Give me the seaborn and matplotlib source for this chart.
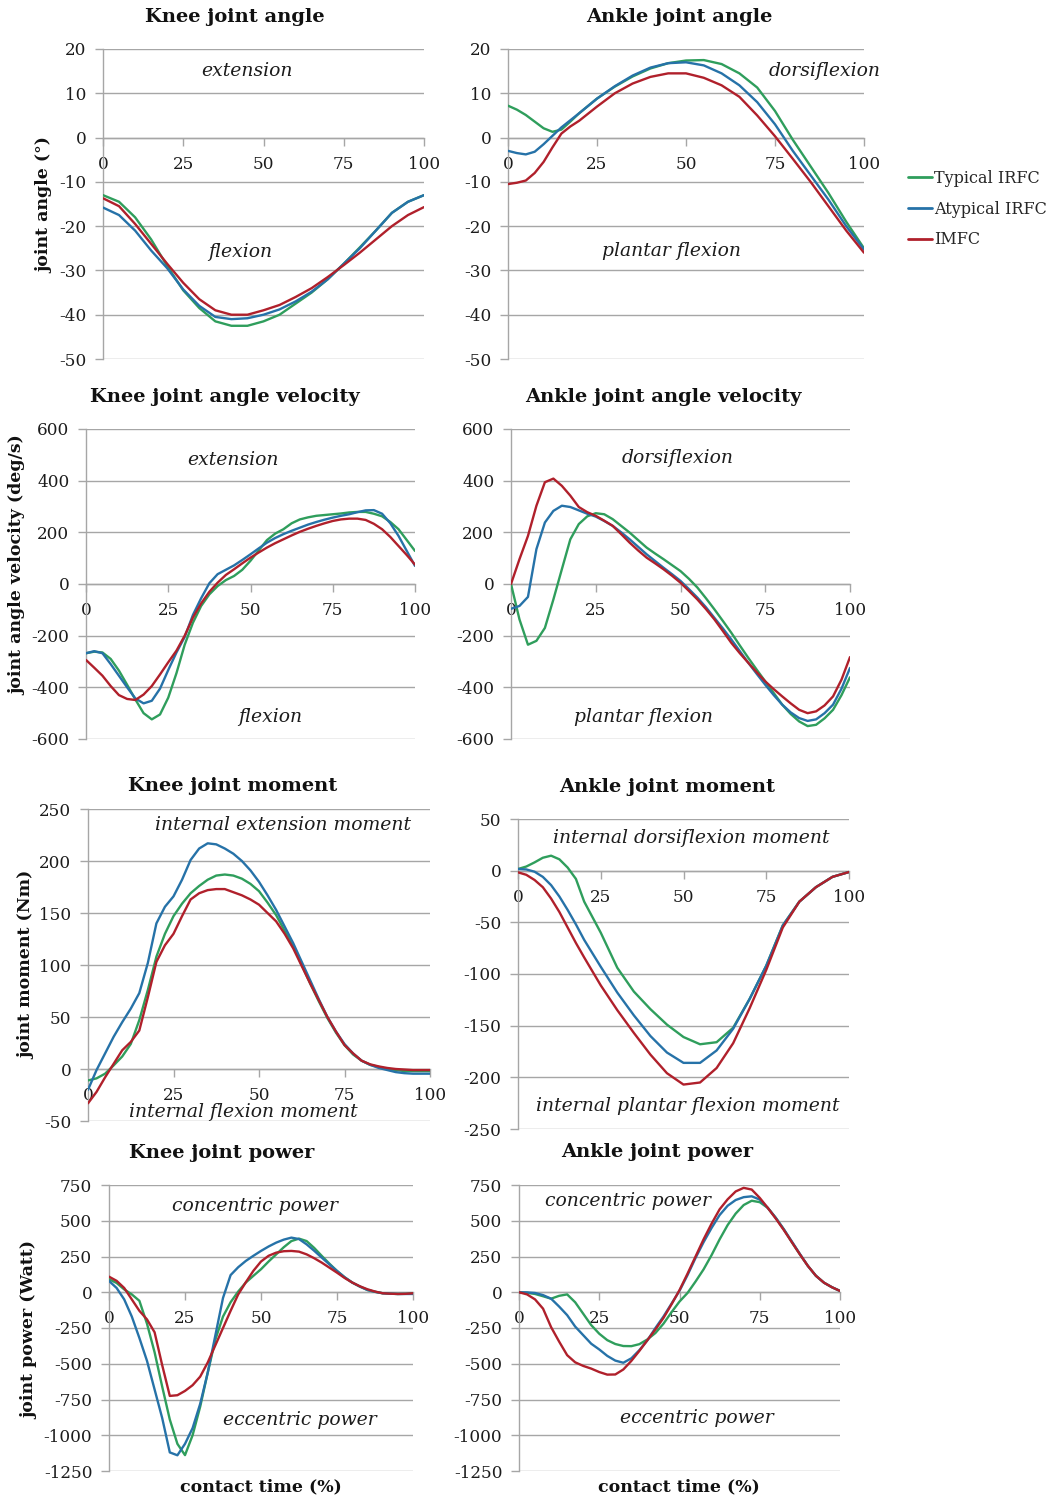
import numpy as np
import pandas as pd
import matplotlib
matplotlib.use("Agg")
import matplotlib.pyplot as plt
from matplotlib.lines import Line2D
import seaborn as sns

# ---------------------------------------------------------------- data
groups = ["Typical IRFC", "Atypical IRFC", "IMFC"]
colors = {"Typical IRFC": "#2f9e5c", "Atypical IRFC": "#2672a8", "IMFC": "#b0202b"}

x_step5 = [0, 5, 10, 15, 20, 25, 30, 35, 40, 45, 50, 55, 60, 65, 70, 75, 80, 85, 90, 95, 100]
x_step25 = [i * 2.5 for i in range(41)]
x_early_fine = [0, 2.5, 5, 7.5, 10, 12.5, 15, 17.5, 20, 25, 30, 35, 40, 45, 50, 55,
                60, 65, 70, 75, 80, 85, 90, 95, 100]

# Knee joint angle (deg)
knee_angle_typ = [-13, -14.5, -18, -23, -29, -34.5, -38.5, -41.5, -42.5, -42.5, -41.5,
                  -40, -37.5, -35, -32, -28.5, -24.8, -21, -17, -14.5, -13]
knee_angle_atyp = [-15.8, -17.5, -21, -25.5, -29.5, -34.3, -38, -40.5, -41, -40.8, -40,
                   -38.8, -37, -34.8, -32, -28.5, -25, -21, -17, -14.5, -13]
knee_angle_imfc = [-13.7, -15.5, -19.5, -24, -28.5, -32.8, -36.5, -39, -40, -40, -39,
                   -37.8, -36, -34, -31.5, -28.8, -26, -23, -20, -17.5, -15.7]

# Ankle joint angle (deg)
ankle_angle_typ = [7.2, 6.3, 5.1, 3.6, 2.1, 1.3, 1.8, 3.6, 5.5, 8.8, 11.5, 13.8, 15.6, 16.8,
                   17.4, 17.5, 16.6, 14.5, 11.3, 6.0, -0.5, -6.5, -12.5, -19, -25]
ankle_angle_atyp = [-3.0, -3.5, -3.8, -3.2, -1.5, 0.4, 2.3, 3.9, 5.5, 8.8, 11.6, 14.0, 15.8,
                    16.8, 17.0, 16.3, 14.5, 11.8, 8.0, 3.0, -3.0, -8.5, -14.0, -20.0, -25.3]
ankle_angle_imfc = [-10.5, -10.2, -9.7, -8.0, -5.5, -2.2, 0.9, 2.5, 3.8, 7.0, 10.0, 12.2, 13.7,
                    14.5, 14.5, 13.5, 11.8, 9.2, 5.0, 0.3, -4.8, -10.0, -15.5, -21.0, -26.0]

# Knee joint angle velocity (deg/s)
knee_vel_typ = [-268, -262, -265, -290, -335, -390, -447, -500, -524, -505, -440, -345, -235,
                -150, -85, -40, -8, 15, 31, 55, 90, 130, 170, 195, 212, 235, 250, 258, 264,
                267, 270, 273, 277, 279, 279, 272, 262, 240, 212, 170, 128]
knee_vel_atyp = [-268, -260, -268, -310, -355, -400, -443, -462, -452, -405, -333, -265, -205,
                 -120, -55, 3, 38, 55, 72, 93, 115, 138, 160, 178, 193, 206, 218, 230, 240,
                 249, 257, 264, 270, 278, 285, 286, 272, 235, 186, 128, 70]
knee_vel_imfc = [-294, -324, -355, -395, -430, -445, -449, -428, -395, -350, -303, -258, -200,
                 -130, -75, -30, 5, 35, 57, 80, 102, 122, 141, 158, 173, 188, 202, 214, 225,
                 235, 244, 250, 253, 253, 248, 233, 212, 182, 147, 112, 75]

# Ankle joint angle velocity (deg/s)
ankle_vel_typ = [0, -137, -235, -220, -170, -60, 57, 173, 232, 262, 274, 270, 251, 225, 199,
                 170, 141, 118, 96, 73, 50, 20, -14, -55, -98, -143, -189, -238, -286, -332,
                 -377, -422, -467, -503, -532, -550, -545, -520, -487, -430, -361]
ankle_vel_atyp = [-96, -85, -50, 135, 238, 283, 303, 298, 285, 272, 261, 244, 225, 200, 173,
                  144, 115, 89, 63, 38, 12, -20, -53, -90, -131, -172, -215, -260, -305, -348,
                  -390, -430, -467, -497, -519, -530, -524, -500, -467, -405, -325]
ankle_vel_imfc = [0, 96, 186, 303, 394, 408, 380, 342, 298, 278, 264, 245, 225, 193, 160, 130,
                  102, 80, 57, 32, 5, -27, -60, -97, -137, -182, -228, -268, -305, -342, -377,
                  -407, -435, -462, -487, -500, -493, -470, -435, -370, -283]

# Knee joint moment (Nm)
knee_mom_typ = [-11, -9, -4.5, 3.5, 12, 24, 47, 76, 108, 130, 147, 159, 169, 176, 182, 186, 187,
                186, 183, 178, 171, 160, 148, 133, 118, 100, 82, 65, 49, 35, 23, 14, 8, 4, 2,
                0, -1, -2, -2, -2, -2]
knee_mom_atyp = [-20, -1, 15, 31, 45, 58, 73, 102, 140, 156, 166, 182, 201, 212, 217, 216, 212,
                 207, 200, 191, 180, 167, 153, 137, 121, 103, 85, 67, 50, 36, 24, 15, 8, 4, 1,
                 -1, -3, -4, -4.5, -4.5, -4.5]
knee_mom_imfc = [-33, -22, -8, 5, 18, 26, 37, 69, 103, 119, 130, 147, 163, 169, 172, 173, 173,
                 170, 167, 163, 158, 150, 142, 130, 116, 99, 82, 66, 50, 36, 23, 15, 8, 4.5,
                 2.5, 1, 0, -0.5, -1, -1, -1]

# Ankle joint moment (Nm)
ankle_mom_typ = [1.6, 4, 8, 12.5, 14.5, 11, 3, -8, -30, -60, -94, -117, -134, -149, -161,
                 -168, -166, -152, -124, -92, -53, -30, -16, -6, -1.3]
ankle_mom_atyp = [1.6, 1.2, -1, -6, -14, -25, -38, -52, -67, -93, -118, -140, -160, -176, -186,
                  -186, -174, -153, -124, -92, -53, -30, -16, -6, -1.3]
ankle_mom_imfc = [-1.6, -4, -9, -16, -27, -40, -55, -70, -84, -111, -135, -157, -178, -196,
                  -207, -205, -191, -167, -133, -96, -55, -30, -16, -6, -1.3]

# Knee joint power (W)
knee_pow_typ = [91, 65, 20, -15, -60, -220, -420, -660, -890, -1060, -1139, -1000, -800, -560,
                -330, -170, -70, 5, 68, 115, 161, 215, 265, 315, 358, 375, 358, 310, 254, 200,
                149, 105, 68, 40, 16, 3, -7, -10, -12, -11, -7]
knee_pow_atyp = [79, 30, -50, -170, -320, -480, -680, -880, -1120, -1140, -1060, -950, -780,
                 -560, -300, -40, 120, 175, 219, 255, 289, 320, 347, 368, 382, 372, 335, 290,
                 242, 195, 149, 105, 68, 40, 16, 3, -7, -10, -12, -12, -12]
knee_pow_imfc = [109, 80, 30, -50, -130, -190, -280, -510, -725, -720, -690, -650, -590, -490,
                 -370, -250, -130, -15, 70, 150, 215, 255, 277, 287, 289, 284, 265, 238, 207,
                 172, 137, 100, 68, 42, 21, 5, -7, -10, -12, -11, -7]

# Ankle joint power (W)
ankle_pow_typ = [0, -4, -12, -28, -45, -25, -15, -70, -150, -230, -290, -335, -362, -376, -377,
                 -363, -330, -285, -220, -140, -65, -5, 75, 160, 260, 370, 470, 550, 610, 640,
                 630, 590, 520, 440, 350, 265, 184, 115, 67, 35, 9]
ankle_pow_atyp = [0, -1, -5, -20, -45, -100, -160, -240, -300, -360, -400, -445, -478, -493,
                  -462, -405, -336, -250, -170, -80, 10, 120, 240, 350, 450, 540, 605, 645,
                  665, 671, 648, 590, 520, 440, 355, 268, 184, 115, 67, 35, 9]
ankle_pow_imfc = [0, -15, -50, -115, -244, -345, -440, -490, -515, -534, -558, -576, -575,
                  -540, -480, -410, -335, -260, -180, -85, 15, 130, 250, 370, 480, 580, 650,
                  705, 730, 718, 660, 590, 515, 435, 350, 265, 184, 115, 67, 35, 9]

xticks = [0, 25, 50, 75, 100]

# ---------------------------------------------------------------- style
sns.set_theme(style="white")
plt.rcParams["font.family"] = ["DejaVu Serif"]
plt.rcParams["axes.unicode_minus"] = False

W, H = 1057, 1500
fig = plt.figure(figsize=(W / 100, H / 100), dpi=100)
GRID = "#a6a6a6"
TXT = "#1c1c1c"


def rect(l, r, t, b):
    return [l / W, 1 - b / H, (r - l) / W, (b - t) / H]


def fx(x):
    return x / W


def fy(y):
    return 1 - y / H


def panel(box, x, series, ylim, ystep, title, title_xy):
    ax = fig.add_axes(rect(*box))
    frames = []
    for name, vals in zip(groups, series):
        frames.append(pd.DataFrame({"t": x, "v": vals, "group": name}))
    df = pd.concat(frames, ignore_index=True)
    sns.lineplot(data=df, x="t", y="v", hue="group", palette=colors,
                 hue_order=groups, estimator=None, sort=False, legend=False,
                 linewidth=1.7, ax=ax, zorder=3)
    for ln in ax.get_lines():
        ln.set_solid_joinstyle("round")
        ln.set_solid_capstyle("round")
    ax.set_xlim(0, 100)
    ax.set_ylim(*ylim)
    ax.set_xticks(xticks)
    ax.set_xticklabels([str(v) for v in xticks])
    ax.set_yticks(np.arange(ylim[0], ylim[1] + ystep / 2, ystep))
    ax.yaxis.grid(True, color=GRID, lw=1.0, zorder=0)
    ax.xaxis.grid(False)
    ax.set_xlabel("")
    ax.set_ylabel("")
    for s in ("top", "right"):
        ax.spines[s].set_visible(False)
    ax.spines["left"].set_color(GRID)
    ax.spines["bottom"].set_color(GRID)
    ax.spines["bottom"].set_position(("data", 0))
    ax.spines["left"].set_linewidth(1.0)
    ax.spines["bottom"].set_linewidth(1.0)
    ax.tick_params(axis="y", direction="out", length=6, width=1, color=GRID,
                   pad=6, labelsize=12.2, labelcolor=TXT, left=True)
    ax.tick_params(axis="x", direction="out", length=6, width=1, color=GRID,
                   pad=7, labelsize=12.2, labelcolor=TXT, bottom=True)
    ax.patch.set_alpha(0)
    fig.text(fx(title_xy[0]), fy(title_xy[1]), title, ha="center", va="center",
             fontsize=14, fontweight="bold", color="#111111")
    return ax


def note(x, y, s):
    fig.text(fx(x), fy(y), s, ha="center", va="center", fontsize=13.5,
             style="italic", color=TXT)


# Row 1: joint angles
panel((103, 424, 49, 359), x_step5, [knee_angle_typ, knee_angle_atyp, knee_angle_imfc],
      (-50, 20), 10, "Knee joint angle", (235, 17))
panel((508, 864, 49, 359), x_early_fine, [ankle_angle_typ, ankle_angle_atyp, ankle_angle_imfc],
      (-50, 20), 10, "Ankle joint angle", (679, 17))
note(247, 71, "extension")
note(240, 252, "flexion")
note(825, 71, "dorsiflexion")
note(671, 251, "plantar flexion")

# Row 2: angular velocities
panel((86, 415, 429, 739), x_step25, [knee_vel_typ, knee_vel_atyp, knee_vel_imfc],
      (-600, 600), 200, "Knee joint angle velocity", (225, 397))
panel((511, 850, 429, 739), x_step25, [ankle_vel_typ, ankle_vel_atyp, ankle_vel_imfc],
      (-600, 600), 200, "Ankle joint angle velocity", (663, 397))
note(233, 460, "extension")
note(270, 717, "flexion")
note(678, 458, "dorsiflexion")
note(644, 717, "plantar flexion")

# Row 3: joint moments
panel((88, 430, 809, 1121), x_step25, [knee_mom_typ, knee_mom_atyp, knee_mom_imfc],
      (-50, 250), 50, "Knee joint moment", (233, 786))
panel((518, 849, 819, 1129), x_early_fine, [ankle_mom_typ, ankle_mom_atyp, ankle_mom_imfc],
      (-250, 50), 50, "Ankle joint moment", (667, 787))
note(283, 825, "internal extension moment")
note(243, 1112, "internal flexion moment")
note(691, 838, "internal dorsiflexion moment")
note(688, 1106, "internal plantar flexion moment")

# Row 4: joint powers
panel((109, 413, 1185, 1471), x_step25, [knee_pow_typ, knee_pow_atyp, knee_pow_imfc],
      (-1250, 750), 250, "Knee joint power", (222, 1153))
panel((519, 840, 1185, 1471), x_step25, [ankle_pow_typ, ankle_pow_atyp, ankle_pow_imfc],
      (-1250, 750), 250, "Ankle joint power", (657, 1152))
note(255, 1206, "concentric power")
note(300, 1420, "eccentric power")
note(628, 1201, "concentric power")
note(697, 1418, "eccentric power")

# Axis titles
for (x, y, s) in [(45, 205, "joint angle (°)"), (18, 565, "joint angle velocity (deg/s)"),
                  (27, 965, "joint moment (Nm)"), (30, 1330, "joint power (Watt)")]:
    fig.text(fx(x), fy(y), s, rotation=90, ha="center", va="center", fontsize=12.5,
             fontweight="bold", color="#111111")
for x in (261, 679):
    fig.text(fx(x), fy(1487), "contact time (%)", ha="center", va="center",
             fontsize=12.5, fontweight="bold", color="#111111")

# Legend
handles = [Line2D([0], [0], color=colors[g], lw=2) for g in groups]
fig.legend(handles, groups, loc="upper left", bbox_to_anchor=(fx(908), fy(170)),
           frameon=False, fontsize=11.5, handlelength=1.5, handletextpad=0.15,
           labelspacing=0.85, borderpad=0, borderaxespad=0)

fig.savefig("out.png", dpi=100, facecolor="white")
